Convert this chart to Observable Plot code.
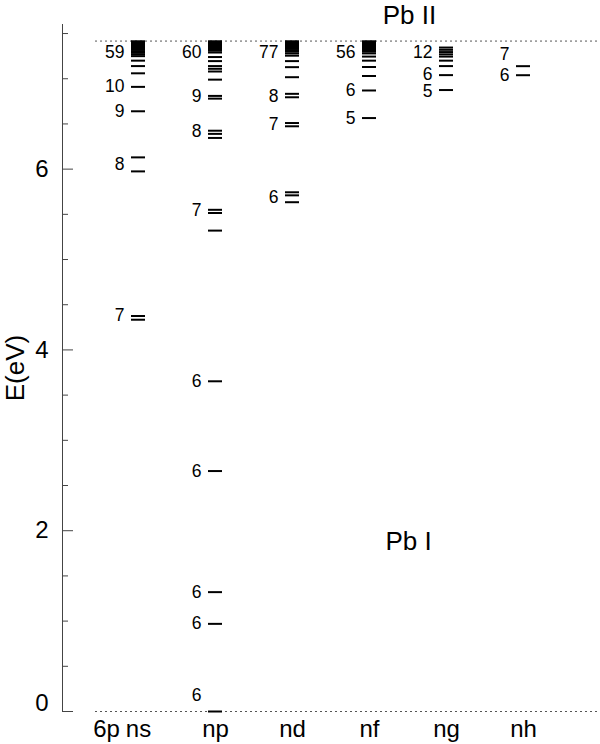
<!DOCTYPE html>
<html><head><meta charset="utf-8">
<script src="https://cdn.jsdelivr.net/npm/d3@7"></script>
<script src="https://cdn.jsdelivr.net/npm/@observablehq/plot@0.6"></script>
<style>body{margin:0;background:#fff}#chart{width:600px;height:744px}</style>
</head><body><div id="chart"></div>
<script>
// ---- data ----
const columns = ["ns", "np", "nd", "nf", "ng", "nh"];
const ionLimit = 7.4167;          // Pb II threshold (eV)
const groundLevel = 0;

const nsE = [4.334, 4.375, 5.975, 6.130, 6.64, 6.91, 7.06, 7.14, 7.20, 7.25, 7.27, 7.287, 7.305, 7.32, 7.335, 7.347, 7.357, 7.366, 7.374, 7.381, 7.387, 7.393, 7.398, 7.402, 7.406, 7.41, 7.413];
const npE = [0, 0.9695, 1.3205, 2.660, 3.653, 5.32, 5.515, 5.55, 6.345, 6.39, 6.425, 6.78, 6.81, 6.99, 7.08, 7.11, 7.14, 7.195, 7.24, 7.29, 7.31, 7.325, 7.34, 7.352, 7.362, 7.371, 7.379, 7.386, 7.392, 7.397, 7.402, 7.406, 7.41, 7.413];
const ndE = [5.634, 5.71, 5.744, 6.474, 6.51, 6.795, 6.833, 7.017, 7.128, 7.195, 7.255, 7.28, 7.30, 7.317, 7.332, 7.345, 7.356, 7.366, 7.375, 7.383, 7.39, 7.396, 7.401, 7.406, 7.41, 7.413];
const nfE = [6.565, 6.87, 7.03, 7.13, 7.2, 7.245, 7.28, 7.30, 7.318, 7.333, 7.346, 7.357, 7.367, 7.375, 7.383, 7.39, 7.396, 7.401, 7.406, 7.41, 7.413];
const ngE = [6.875, 7.04, 7.14, 7.2, 7.245, 7.27, 7.295, 7.32, 7.345];
const nhE = [7.039, 7.139];

const nsLabelText = ["7", "8", "9", "10", "59"];
const nsLabelE    = [4.38, 6.05, 6.64, 6.91, 7.29];
const npLabelText = ["6", "6", "6", "6", "6", "7", "8", "9", "60"];
const npLabelE    = [0.18, 0.97, 1.32, 2.66, 3.653, 5.54, 6.42, 6.80, 7.29];
const ndLabelText = ["6", "7", "8", "77"];
const ndLabelE    = [5.69, 6.50, 6.81, 7.29];
const nfLabelText = ["5", "6", "56"];
const nfLabelE    = [6.565, 6.87, 7.29];
const ngLabelText = ["5", "6", "12"];
const ngLabelE    = [6.865, 7.045, 7.29];
const nhLabelText = ["6", "7"];
const nhLabelE    = [7.04, 7.27];

const yMajorTicks = [0, 2, 4, 6];
const yMinorTicks = [0.5, 1, 1.5, 2.5, 3, 3.5, 4.5, 5, 5.5, 6.5, 7, 7.5];
const yTitle = "E(eV)";
const groundConfig = "6p";
const ionTitle = "Pb II";
const atomTitle = "Pb I";
const atomTitleE = 1.88;

// ---- build tables ----
const levelSets = {ns: nsE, np: npE, nd: ndE, nf: nfE, ng: ngE, nh: nhE};
const labelSets = {
  ns: [nsLabelText, nsLabelE], np: [npLabelText, npLabelE], nd: [ndLabelText, ndLabelE],
  nf: [nfLabelText, nfLabelE], ng: [ngLabelText, ngLabelE], nh: [nhLabelText, nhLabelE]
};
const levels = columns.flatMap(c => levelSets[c].map(e => ({col: c, e})));
const labels = columns.flatMap(c => labelSets[c][0].map((t, i) => ({col: c, t, e: labelSets[c][1][i]})));

const font = "'Liberation Sans', Arial, Helvetica, sans-serif";
const fmt = d => String(d);

const chart = Plot.plot({
  width: 600, height: 744,
  marginLeft: 62, marginRight: 0, marginTop: 24, marginBottom: 33,
  style: {fontFamily: font, background: "white", color: "black"},
  x: {type: "band", domain: columns, paddingInner: 0.814, paddingOuter: 0.887, axis: null},
  y: {domain: [0, 7.6], axis: null},
  marks: [
    Plot.ruleY([groundLevel, ionLimit], {stroke: "#555", strokeWidth: 1, strokeDasharray: "2,3", insetLeft: 33}),
    Plot.tickY(levels, {x: "col", y: "e", stroke: "black", strokeWidth: 2}),
    Plot.text(labels, {x: "col", y: "e", text: "t", textAnchor: "end", dx: -14, fontSize: 17.5}),
    // y axis
    Plot.frame({anchor: "left", stroke: "#444"}),
    Plot.axisY(yMinorTicks, {tickSize: -6, fill: "none", stroke: "#444", label: null}),
    Plot.axisY(yMajorTicks, {tickSize: -11, fill: "none", stroke: "#444", label: null}),
    Plot.axisY(yMajorTicks.filter(d => d !== 0), {tickSize: 0, tickPadding: 14, fontSize: 24, tickFormat: fmt, label: null}),
    Plot.axisY([0], {tickSize: 0, tickPadding: 14, fontSize: 24, dy: -8, tickFormat: fmt, label: null}),
    Plot.text([yTitle], {frameAnchor: "left", textAnchor: "middle", dx: -47, rotate: -90, fontSize: 26}),
    // x labels
    Plot.axisX({tickSize: 0, tickPadding: 8, fontSize: 24, label: null}),
    Plot.text([groundConfig], {x: [columns[0]], frameAnchor: "bottom", lineAnchor: "top", dy: 8, dx: -32, fontSize: 24}),
    // titles
    Plot.text([ionTitle], {x: [columns[3]], y: [ionLimit], dx: 40, dy: -25, fontSize: 26}),
    Plot.text([atomTitle], {x: [columns[3]], y: [atomTitleE], dx: 39, fontSize: 26})
  ]
});
document.getElementById("chart").appendChild(chart);
</script>
</body></html>
